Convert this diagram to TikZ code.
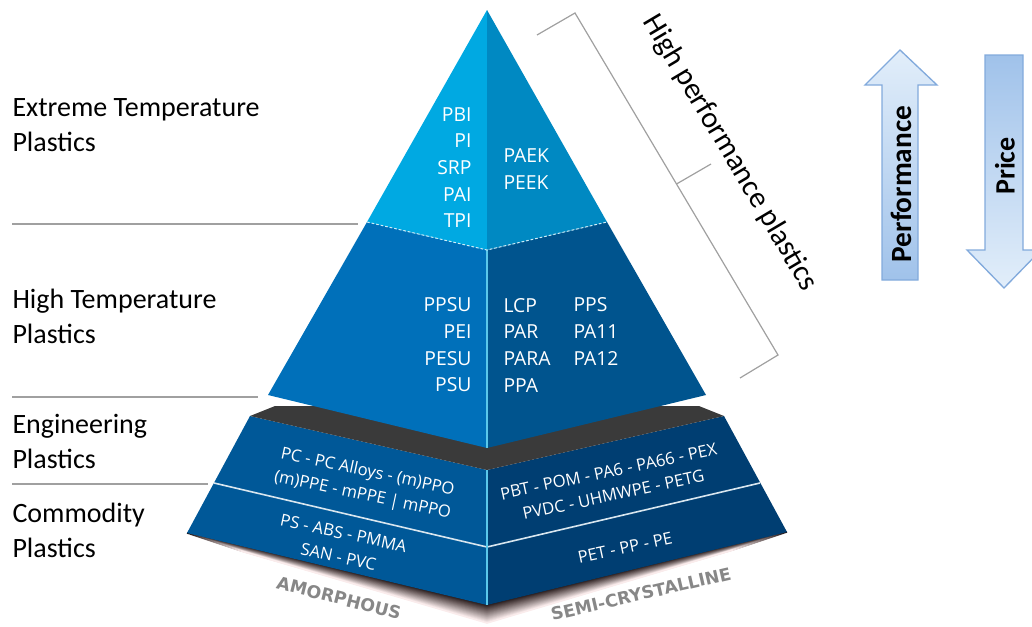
\documentclass[tikz,border=0pt]{standalone}
\usepackage{fontspec}
\setmainfont{Carlito}
\newfontfamily\pyrfont{Open Sans}
\newfontfamily\basefont{DejaVu Sans}

\definecolor{extL}{RGB}{0,169,226}
\definecolor{extR}{RGB}{0,137,194}
\definecolor{highL}{RGB}{0,112,186}
\definecolor{highR}{RGB}{0,84,142}
\definecolor{lowL}{RGB}{0,88,152}
\definecolor{lowR}{RGB}{0,62,114}
\definecolor{topgray}{RGB}{58,58,58}
\definecolor{seamcyan}{RGB}{90,200,235}
\definecolor{dividergray}{RGB}{160,160,160}
\definecolor{basegray}{RGB}{135,135,135}
\definecolor{shadowdark}{RGB}{35,22,22}
\definecolor{shadowpink}{RGB}{252,238,238}
\definecolor{arrowedge}{RGB}{130,170,220}
\definecolor{arrowlight}{RGB}{226,238,250}
\definecolor{arrowblue}{RGB}{160,194,234}

\tikzset{every picture/.style={line width=0.75pt}}
\tikzset{
  sidelabel/.style={anchor=west, align=left, inner sep=0pt, font=\fontsize{21}{26.25}\selectfont},
  tierlbl/.style={text=white, inner sep=0pt, font=\pyrfont\fontsize{14.5}{20}\selectfont},
  blocklbl/.style={text=white, inner sep=0pt, align=center, font=\pyrfont\fontsize{12.5}{18}\selectfont},
  baselbl/.style={text=basegray, inner sep=0pt, font=\basefont\bfseries\fontsize{13}{16}\selectfont},
  arrowlbl/.style={inner sep=0pt, rotate=90, font=\bfseries\fontsize{22}{26}\selectfont},
  divider/.style={draw=dividergray, line width=1.1},
  bigarrow/.style={draw=arrowedge, line width=1},
}

\begin{document}
\begin{tikzpicture}[x=0.75pt,y=0.75pt,yscale=-1,xscale=1]
\useasboundingbox (0,0) rectangle (1032,626);
\clip (0,0) rectangle (1032,626);

% Pyramid corners
\coordinate (apex) at (487,10);
\coordinate (exL) at (367,222);
\coordinate (exC) at (487,250);
\coordinate (exR) at (607,222);
\coordinate (htL) at (268,395);
\coordinate (htC) at (487,448);
\coordinate (htR) at (706,395);
\coordinate (topL) at (250,416);
\coordinate (topBL) at (275,406);
\coordinate (topBR) at (699,406);
\coordinate (topR) at (724,416);
\coordinate (topC) at (487,470);
\coordinate (midL) at (214,483);
\coordinate (midC) at (487,547);
\coordinate (midR) at (760,483);
\coordinate (botL) at (187,533);
\coordinate (botC) at (487,605);
\coordinate (botR) at (787,532);

% Shadow under the base
\foreach \i in {0,...,18}{
  \pgfmathtruncatemacro{\shd}{100-5.5*\i}
  \draw[line width=1.2, draw=shadowdark!\shd!shadowpink] (187+3*\i,533+\i) -- (487,605+\i) -- (787-3*\i,532+\i);
}

% Lower block
\fill[lowL] (topL) -- (topC) -- (botC) -- (botL) -- cycle;
\fill[lowR] (topR) -- (topC) -- (botC) -- (botR) -- cycle;
\fill[topgray] (topL) -- (topBL) -- (topBR) -- (topR) -- (topC) -- cycle;
\draw[white!85!lowL, line width=1.2] (midL) -- (midC) -- (midR);
\draw[seamcyan, line width=0.8] (topC) -- (botC);

% High temperature tier
\fill[highL] (exL) -- (exC) -- (htC) -- (htL) -- cycle;
\fill[highR] (exR) -- (exC) -- (htC) -- (htR) -- cycle;
\draw[seamcyan, line width=0.8] (exC) -- (htC);

% Extreme temperature tier
\fill[extL] (apex) -- (exC) -- (exL) -- cycle;
\fill[extR] (apex) -- (exC) -- (exR) -- cycle;
\draw[white!70!seamcyan, dash pattern=on 2pt off 1.5pt] (exL) -- (exC) -- (exR);

% Tier texts
\node[tierlbl, anchor=east, align=right] (extremeA) at (472,167.5) {PBI\\PI\\SRP\\PAI\\TPI};
\node[tierlbl, anchor=west, align=left] (extremeB) at (503,169) {PAEK\\PEEK};
\node[tierlbl, anchor=east, align=right] (highA) at (472,345) {PPSU\\PEI\\PESU\\PSU};
\node[tierlbl, anchor=west, align=left] (highB) at (503,345) {LCP\\PAR\\PARA\\PPA};
\node[tierlbl, anchor=west, align=left] (highC) at (573,331.5) {PPS\\PA11\\PA12};
\node[blocklbl, rotate=-12] (engA) at (365,484) {PC - PC Alloys - (m)PPO\\(m)PPE - mPPE | mPPO};
\node[blocklbl, rotate=12] (engB) at (611,483) {PBT - POM - PA6 - PA66 - PEX\\PVDC - UHMWPE - PETG};
\node[blocklbl, rotate=-12] (comA) at (341,545) {PS - ABS - PMMA\\SAN - PVC};
\node[blocklbl, rotate=12] (comB) at (625,548) {PET - PP - PE};
\node[baselbl, rotate=-14] (amorph) at (339,598) {AMORPHOUS};
\node[baselbl, rotate=13] (semicr) at (641,594) {SEMI-CRYSTALLINE};

% Side labels
\node[sidelabel] (lblExtreme) at (12,125) {Extreme Temperature\\Plastics};
\node[sidelabel] (lblHigh) at (12,316) {High Temperature\\Plastics};
\node[sidelabel] (lblEng) at (12,441) {Engineering\\Plastics};
\node[sidelabel] (lblCom) at (12,530) {Commodity\\Plastics};
\draw[divider] (12,224) -- (358,224);
\draw[divider] (12,397) -- (258,397);
\draw[divider] (12,484) -- (208,484);

% Bracket
\draw[dividergray, line width=0.9] (537,35) -- (575,13) -- (778,355) -- (740,378);
\draw[dividergray, line width=0.9] (676.5,184) -- (711,164);
\node[inner sep=0pt, rotate=-59.3, font=\fontsize{22.5}{26}\selectfont] (hpp) at (730,153) {High performance plastics};

% Arrows
\draw[bigarrow, top color=arrowlight, bottom color=arrowblue] (882,280) -- (882,85) -- (865,85) -- (900,50) -- (937,85) -- (918,85) -- (918,280) -- cycle;
\draw[bigarrow, top color=arrowblue, bottom color=arrowlight] (985,55) -- (1023,55) -- (1023,250) -- (1041,250) -- (1004,288) -- (967,250) -- (985,250) -- cycle;
\node[arrowlbl] (perf) at (901,184) {Performance};
\node[arrowlbl, font=\bfseries\fontsize{21}{26}\selectfont] (price) at (1005,166) {Price};

\end{tikzpicture}
\end{document}
